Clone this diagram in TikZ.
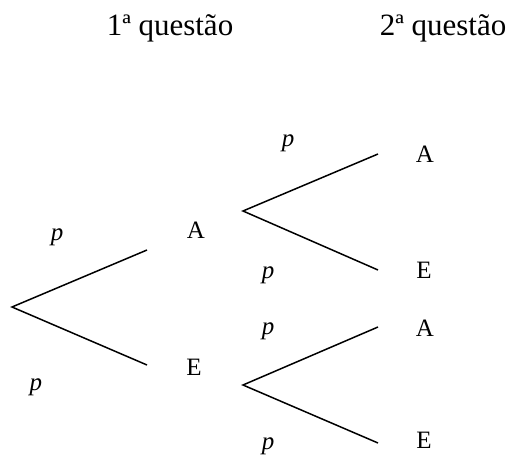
\documentclass[tikz,border=0pt]{standalone}
\usepackage{fontspec}
\setmainfont{Liberation Serif}
\begin{document}
\begin{tikzpicture}[x=1pt,y=-1pt,
  branch/.style={line width=1.5pt},
  lbl/.style={inner sep=0pt,anchor=base,font=\fontsize{25}{29}\selectfont},
  plbl/.style={inner sep=0pt,anchor=base,font=\fontsize{25}{29}\selectfont\itshape},
  head/.style={inner sep=0pt,anchor=base,font=\fontsize{31}{36}\selectfont}]
\useasboundingbox (0,0) rectangle (512,455);
% headers
\node[head] (h1) at (170,35) {1ª questão};
\node[head] (h2) at (443,35) {2ª questão};
% first tree
\coordinate (r0) at (12,307);
\coordinate (a1) at (147,250);
\coordinate (e1) at (147,365);
\draw[branch] (a1) -- (r0) -- (e1);
\node[lbl] (A1) at (196,238) {A};
\node[lbl] (E1) at (194,375) {E};
\node[plbl] (p1) at (57,240) {p};
\node[plbl] (p2) at (36,390) {p};
% second tree upper
\coordinate (r1) at (243,211);
\coordinate (a2) at (378,154);
\coordinate (e2) at (378,270);
\draw[branch] (a2) -- (r1) -- (e2);
\node[lbl] (A2) at (425,162) {A};
\node[lbl] (E2) at (424,278) {E};
\node[plbl] (p3) at (288,146) {p};
\node[plbl] (p4) at (268,278) {p};
% second tree lower
\coordinate (r2) at (243,385);
\coordinate (a3) at (378,327);
\coordinate (e3) at (378,443);
\draw[branch] (a3) -- (r2) -- (e3);
\node[lbl] (A3) at (425,336) {A};
\node[lbl] (E3) at (424,448) {E};
\node[plbl] (p5) at (268,334) {p};
\node[plbl] (p6) at (268,449) {p};
\end{tikzpicture}
\end{document}
